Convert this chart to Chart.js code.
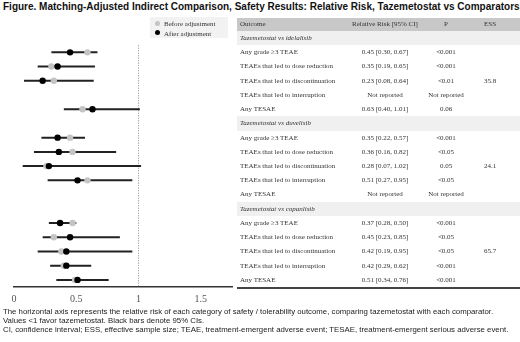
<!DOCTYPE html>
<html>
<head>
<meta charset="utf-8">
<script src="https://cdn.jsdelivr.net/npm/chart.js@4.4.1/dist/chart.umd.min.js"></script>
<style>
  html, body { margin:0; padding:0; background:#fff; }
  #page { position:relative; width:520px; height:342px; overflow:hidden; background:#fff; }
  #title { position:absolute; left:3px; top:1px; font:bold 10px "Liberation Sans", Arial, sans-serif; color:#111; white-space:nowrap; }
  #chartBox { position:absolute; left:0; top:14px; width:236px; height:296px; }
  #legend { position:absolute; left:150px; top:17px; width:78px; height:21px; background:#f2f2f2; font:7px "Liberation Serif", "Times New Roman", serif; color:#333; }
  .lg { position:absolute; left:5px; height:10px; line-height:10px; white-space:nowrap; }
  .dot { display:inline-block; width:5px; height:5px; border-radius:50%; margin-right:4px; vertical-align:middle; position:relative; top:-1px; }
  #table { position:absolute; left:237px; top:18px; width:283px; height:271px; font:7px "Liberation Serif", "Times New Roman", serif; color:#333; }
  .row { position:absolute; left:0; width:283px; }
  .cell { position:absolute; top:0; white-space:nowrap; }
  #foot { position:absolute; left:3px; top:306.5px; font:7.8px "Liberation Sans", Arial, sans-serif; color:#222; line-height:9.4px; white-space:nowrap; }
</style>
</head>
<body>
<div id="page">
  <div id="title">Figure. Matching-Adjusted Indirect Comparison, Safety Results: Relative Risk, Tazemetostat vs Comparators</div>
  <div id="chartBox"><canvas id="c"></canvas></div>
  <div id="legend"></div>
  <div id="table"></div>
  <div id="foot">The horizontal axis represents the relative risk of each category of safety / tolerability outcome, comparing tazemetostat with each comparator.<br>Values &lt;1 favor tazemetostat. Black bars denote 95% CIs.<br>CI, confidence interval; ESS, effective sample size; TEAE, treatment-emergent adverse event; TESAE, treatment-emergent serious adverse event.</div>
</div>
<script>
// ---- data ----
const groups = ['Tazemetostat vs idelalisib', 'Tazemetostat vs duvelisib', 'Tazemetostat vs copanlisib'];
const outcomes = ['Any grade \u22653 TEAE', 'TEAEs that led to dose reduction', 'TEAEs that led to discontinuation', 'TEAEs that led to interruption', 'Any TESAE'];
const rrAfter  = [[0.45, 0.35, 0.23, null, 0.63], [0.35, 0.36, 0.28, 0.51, null], [0.37, 0.45, 0.42, 0.42, 0.51]];
const ciLow    = [[0.30, 0.19, 0.08, null, 0.40], [0.22, 0.16, 0.07, 0.27, null], [0.28, 0.23, 0.19, 0.29, 0.34]];
const ciHigh   = [[0.67, 0.65, 0.64, null, 1.01], [0.57, 0.82, 1.02, 0.95, null], [0.50, 0.85, 0.95, 0.62, 0.76]];
const rrBefore = [[0.59, 0.30, 0.32, null, 0.55], [0.45, 0.47, 0.26, 0.59, null], [0.47, 0.32, 0.38, 0.40, 0.49]];
const pValues  = [['<0.001', '<0.001', '<0.01', 'Not reported', '0.06'], ['<0.001', '<0.05', '0.05', '<0.05', 'Not reported'], ['<0.001', '<0.05', '<0.05', '<0.001', '<0.001']];
const essValues = ['35.8', '24.1', '65.7'];
const xTicks = [0, 0.5, 1, 1.5];
const refValue = 1;
const seriesNames = ['Before adjustment', 'After adjustment'];
const notReported = 'Not reported';

// ---- layout helpers ----
const ROWS = groups.length * (outcomes.length + 1);
const rowIndex = (g, r) => g * (outcomes.length + 1) + 1 + r;

// ---- build chart data ----
const beforePts = [], afterPts = [], whisker = [];
groups.forEach((g, gi) => {
  outcomes.forEach((o, ri) => {
    const y = rowIndex(gi, ri);
    if (rrAfter[gi][ri] !== null) {
      afterPts.push({x: rrAfter[gi][ri], y});
      beforePts.push({x: rrBefore[gi][ri], y});
      whisker.push({x: ciLow[gi][ri], y}, {x: ciHigh[gi][ri], y}, {x: ciHigh[gi][ri], y: null});
    }
  });
});

const colors = ['#c4c4c4', '#000000'];

new Chart(document.getElementById('c'), {
  type: 'scatter',
  data: {
    datasets: [
      { label: seriesNames[0], data: beforePts, order: 1, pointRadius: 3.2, pointBackgroundColor: colors[0], pointBorderWidth: 0, borderColor: colors[0] },
      { label: seriesNames[1], data: afterPts, order: 0, pointRadius: 3.2, pointBackgroundColor: colors[1], pointBorderWidth: 0, borderColor: colors[1] },
      { label: '95% CI', type: 'line', data: whisker, order: 2, borderColor: '#222', borderWidth: 2, pointRadius: 0, spanGaps: false, fill: false },
      { label: 'ref', type: 'line', data: [{x: refValue, y: 0.5}, {x: refValue, y: ROWS - 0.5}], order: 3, borderColor: '#8a8a8a', borderWidth: 1, borderDash: [1, 1.5], pointRadius: 0, fill: false }
    ]
  },
  options: {
    responsive: true,
    maintainAspectRatio: false,
    animation: false,
    events: [],
    layout: { padding: { top: 17, left: 14, right: 1, bottom: 0 } },
    plugins: { legend: { display: false }, tooltip: { enabled: false } },
    scales: {
      x: {
        type: 'linear', min: 0, max: 1.75,
        afterBuildTicks: (s) => { s.ticks = xTicks.map(v => ({value: v})); },
        afterFit: (s) => { s.height = 23; },
        ticks: { color: '#555', padding: 6, font: { family: '"Liberation Serif", "Times New Roman", serif', size: 10 }, callback: (v) => String(v) },
        grid: { display: false, drawTicks: false },
        border: { display: true, color: '#333', width: 1.5 }
      },
      y: { type: 'linear', min: -0.5, max: ROWS - 0.5, reverse: true, display: false }
    }
  }
});

// ---- legend ----
const lg = document.getElementById('legend');
seriesNames.forEach((n, i) => {
  const d = document.createElement('div');
  d.className = 'lg';
  d.style.top = (2 + i * 9.5) + 'px';
  d.innerHTML = '<span class="dot" style="background:' + colors[i] + '"></span>' + n;
  lg.appendChild(d);
});

// ---- table ----
const tb = document.getElementById('table');
const headerH = 13, rowH = 256 / ROWS;
const cols = [{key: 'o', left: 3, align: 'left'}, {key: 'rr', center: 148}, {key: 'p', center: 209}, {key: 'ess', center: 253}];
function addRow(top, h, bg, cells, italic) {
  const r = document.createElement('div');
  r.className = 'row';
  r.style.top = top + 'px'; r.style.height = h + 'px';
  if (bg) r.style.background = bg;
  cells.forEach((t, i) => {
    if (t === null || t === undefined) return;
    const c = document.createElement('div');
    c.className = 'cell';
    c.style.lineHeight = h + 'px';
    c.textContent = t;
    if (italic) c.style.fontStyle = 'italic';
    const col = cols[i];
    if (col.align === 'left') { c.style.left = col.left + 'px'; }
    else { c.style.left = (col.center - 50) + 'px'; c.style.width = '100px'; c.style.textAlign = 'center'; }
    r.appendChild(c);
  });
  tb.appendChild(r);
}
addRow(0, headerH, '#c8c8c8', ['Outcome', 'Relative Risk [95% CI]', 'P', 'ESS']);
const fmt = (v) => v.toFixed(2);
groups.forEach((g, gi) => {
  addRow(headerH + rowIndex(gi, -1) * rowH, rowH, '#f0f0f0', [g], true);
  outcomes.forEach((o, ri) => {
    const rr = rrAfter[gi][ri] === null ? notReported : fmt(rrAfter[gi][ri]) + ' [' + fmt(ciLow[gi][ri]) + ', ' + fmt(ciHigh[gi][ri]) + ']';
    addRow(headerH + rowIndex(gi, ri) * rowH, rowH, null, [o, rr, pValues[gi][ri], ri === 2 ? essValues[gi] : null]);
  });
});
const bl = document.createElement('div');
bl.style.cssText = 'position:absolute;left:0;width:283px;height:0;border-top:2px solid #444;top:' + (headerH + 256 - 0.5) + 'px';
tb.appendChild(bl);
</script>
</body>
</html>
